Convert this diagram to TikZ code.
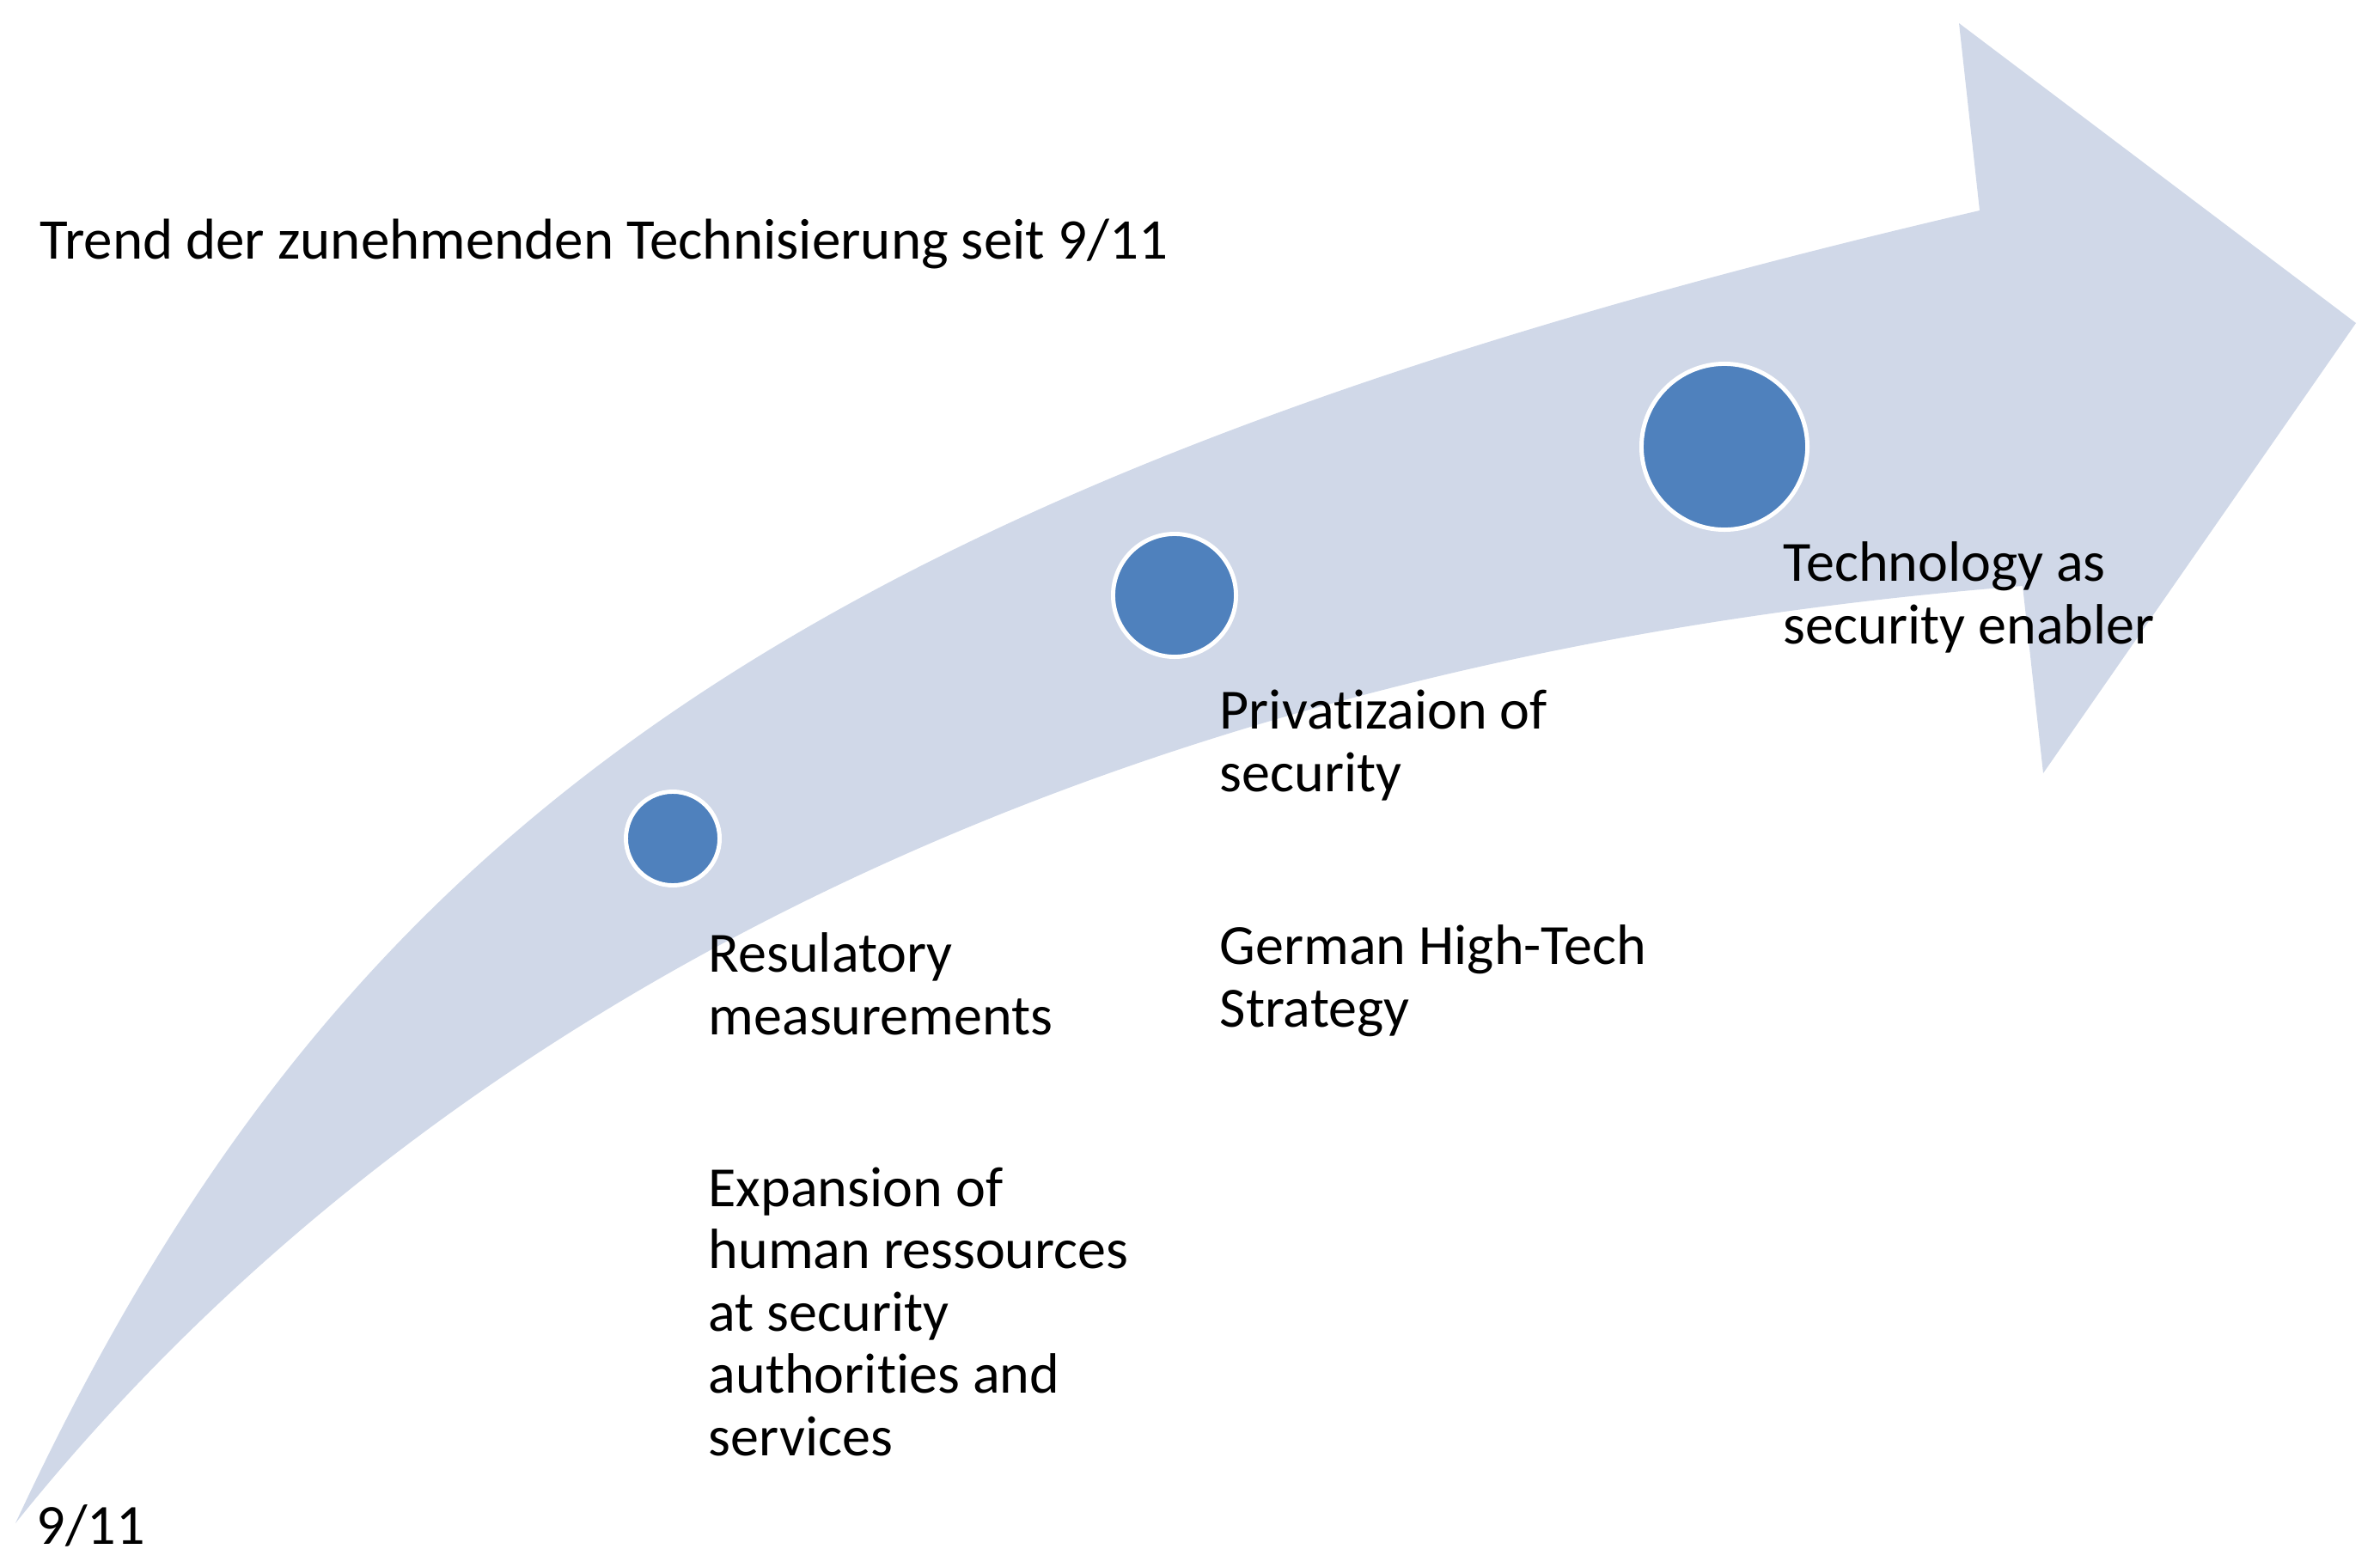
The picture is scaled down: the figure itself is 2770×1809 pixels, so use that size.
\documentclass[tikz,border=0pt]{standalone}
\usepackage{fontspec}
\setmainfont{Carlito}[Ligatures=NoCommon]
\usepackage{tikz}

\definecolor{bandblue}{HTML}{D0D8E8}
\definecolor{dotblue}{HTML}{4F81BD}

\begin{document}
\begin{tikzpicture}[x=0.01cm, y=-0.01cm]

\tikzstyle{band} = [fill=bandblue]
\tikzstyle{milestone} = [circle, inner sep=0pt, fill=dotblue, draw=white, line width=1.4pt]
\tikzstyle{note} = [anchor=base west, align=left, inner sep=0pt, font=\fontsize{18.8}{20.6}\selectfont]

\useasboundingbox (0,0) rectangle (2770,1809);

% Curved arrow
\fill[band] (18,1773) .. controls (382,992) and (890,574) .. (2304,245)
  -- (2280,27) -- (2742,376) -- (2378,900) -- (2354,682)
  .. controls (1300,765) and (504,1167) .. (18,1773) -- cycle;

% Milestones on the arrow
\node (m1) [milestone, minimum size=1.09cm] at (783,976) {};
\node (m2) [milestone, minimum size=1.43cm] at (1367,693) {};
\node (m3) [milestone, minimum size=1.93cm] at (2007,520) {};

% Text (multi-line notes sit on the baseline of their last line)
\node (trend) [note, font=\fontsize{19.05}{20.6}\selectfont] at (46,301) {Trend der zunehmenden Technisierung seit 9/11};
\node (start) [note] at (42,1797) {9/11};

\node (regul) [note] at (824,1204) {Resulatory\\measurements};
\node (staff) [note] at (824,1694) {Expansion of\\human ressources\\at security\\authorities and\\services};

\node (priv) [note] at (1419,921) {Privatizaion of\\security};
\node (hts) [note] at (1419,1195) {German High-Tech\\Strategy};

\node (enabler) [note] at (2075,749) {Technology as\\security enabler};

\end{tikzpicture}
\end{document}
